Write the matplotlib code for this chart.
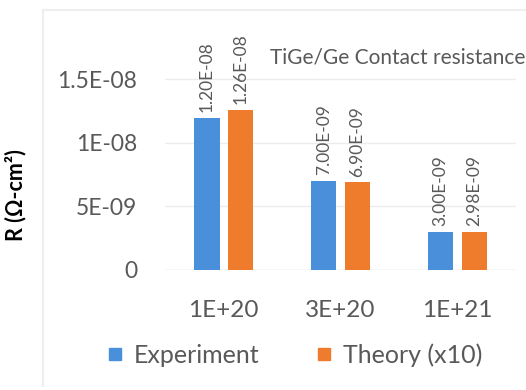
import numpy as np
import matplotlib.pyplot as plt
from matplotlib.lines import Line2D

plt.rcParams['font.family'] = ['Lato', 'DejaVu Sans']

categories = ["1E+20", "3E+20", "1E+21"]
experiment = [1.20e-08, 7.00e-09, 3.00e-09]
theory = [1.26e-08, 6.90e-09, 2.98e-09]
series_names = ["Experiment", "Theory (x10)"]
yticks = [0, 5e-09, 1e-08, 1.5e-08]
ytick_labels = ["0", "5E-09", "1E-08", "1.5E-08"]

blue = "#4A8FD9"
orange = "#EF7B2C"
grey = "#595959"

fig = plt.figure(figsize=(5.26, 3.9), dpi=100)
ax = fig.add_axes([0.314, 0.308, 0.667, 0.651])

x = np.arange(len(categories))
w = 0.22
b1 = ax.bar(x - 0.145, experiment, w, color=blue)
b2 = ax.bar(x + 0.145, theory, w, color=orange)

ax.bar_label(b1, labels=[f"{v:.2E}" for v in experiment], rotation=90,
             padding=4, fontsize=12.5, color=grey)
ax.bar_label(b2, labels=[f"{v:.2E}" for v in theory], rotation=90,
             padding=4, fontsize=12.5, color=grey)

ax.set_xlim(-0.5, 2.5)
ax.set_ylim(0, 2e-08)
ax.set_xticks(x)
ax.set_xticklabels(categories, fontsize=17.5, color=grey)
ax.set_yticks(yticks)
ax.set_yticklabels(ytick_labels, fontsize=16.5, color=grey)
ax.tick_params(axis='y', length=0, pad=20)
ax.tick_params(axis='x', length=0, pad=22)
ax.yaxis.grid(True, color="#ECECEC", linewidth=1)
ax.set_axisbelow(True)
for s in ax.spines.values():
    s.set_visible(False)
ax.axhline(0, color="#E4E4E4", linewidth=1, zorder=0)

fig.text(0.03, 0.50, "R (\u03a9-cm\u00b2)", rotation=90, fontsize=15.5,
         fontweight='bold', ha='center', va='center')
fig.text(0.513, 0.853, "TiGe/Ge Contact resistance", fontsize=15,
         color=grey, ha='left', va='center')

handles = [Line2D([], [], marker='s', linestyle='none', markersize=8,
                  color=c) for c in (blue, orange)]
fig.legend(handles, series_names, loc='center', bbox_to_anchor=(0.56, 0.09),
           ncol=2, frameon=False, fontsize=18, handlelength=0.6,
           handletextpad=0.45, columnspacing=2.3, labelcolor=grey)

# faint outer frame of the original slide chart
fig.add_artist(Line2D([0.082, 0.082], [0.01, 0.975], color="#EEEEEE", lw=1.5))
fig.add_artist(Line2D([0.082, 1.0], [0.975, 0.975], color="#EEEEEE", lw=1.5))

fig.savefig("out.png", dpi=100)
